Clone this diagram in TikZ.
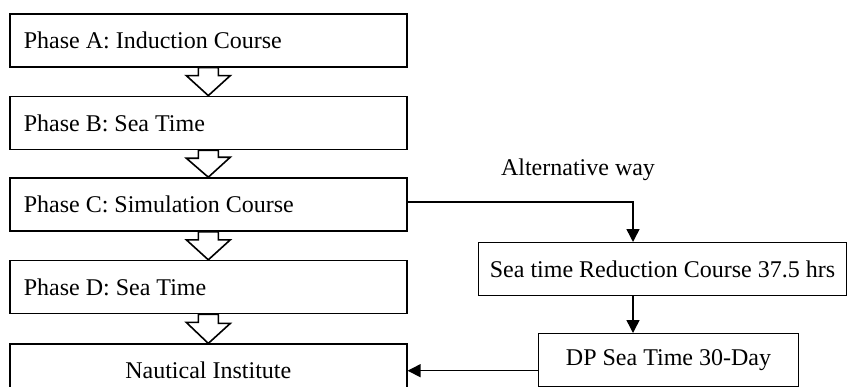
\documentclass[tikz,border=0pt]{standalone}
\usepackage{fontspec}
\setmainfont{Liberation Serif}
\frenchspacing
\usetikzlibrary{positioning, arrows.meta, calc}

\begin{document}
\begin{tikzpicture}[
        x=1pt, y=-1pt,
        font=\fontsize{24}{28}\selectfont,
        % Define styles for the nodes
        phase/.style={draw, line width=1.6pt, minimum width=397pt, minimum height=53pt, text width=369pt, inner xsep=14pt, align=flush left},
        side/.style={draw, line width=1pt, minimum height=53pt, align=flush center},
        hollow/.style={draw, line width=1.6pt, fill=white, line join=miter},
        arrow/.style={-{Triangle[length=13pt, width=13pt]}, line width=1.5pt}
    ]
    \useasboundingbox (0,0) rectangle (847,386);

    % === left column (Phases A-D) ===
    \node (phaseA) [phase, anchor=north west] at (9,13) {Phase A: Induction Course};
    \node (phaseB) [phase, below=28pt of phaseA] {Phase B: Sea Time};
    \node (phaseC) [phase, below=27pt of phaseB] {Phase C: Simulation Course};
    \node (phaseD) [phase, below=28pt of phaseC] {Phase D: Sea Time};
    \node (nautical) [phase, align=flush center, below=29pt of phaseD] {Nautical Institute};

    % hollow block arrows between the phases
    \foreach \a/\b in {phaseA/phaseB, phaseB/phaseC, phaseC/phaseD, phaseD/nautical}
        \draw [hollow] ([xshift=-10pt]\a.south) -- ++(0,-8pt) -- ++(-12pt,0) -- (\b.north)
            -- ([xshift=22pt, yshift=20pt]\b.north) -- ++(-12pt,0) -- ([xshift=10pt]\a.south) -- cycle;

    % === right column (alternative way) ===
    \coordinate (alt) at (633,202);
    \node (altlabel) at (578,170) {Alternative way};
    \node (seatime) [side, minimum width=368pt, anchor=north west] at (478,242) {Sea time Reduction Course 37.5 hrs};
    \node (dpsea) [side, minimum width=260pt, anchor=north west] at (538,333) {DP Sea Time 30-Day};

    \draw [arrow] (phaseC.east |- alt) -- (alt) -- (alt |- seatime.north);
    \draw [arrow] (alt |- seatime.south) -- (alt |- dpsea.north);
    \draw [arrow] (dpsea.west |- nautical.east) -- (nautical.east);

\end{tikzpicture}
\end{document}
